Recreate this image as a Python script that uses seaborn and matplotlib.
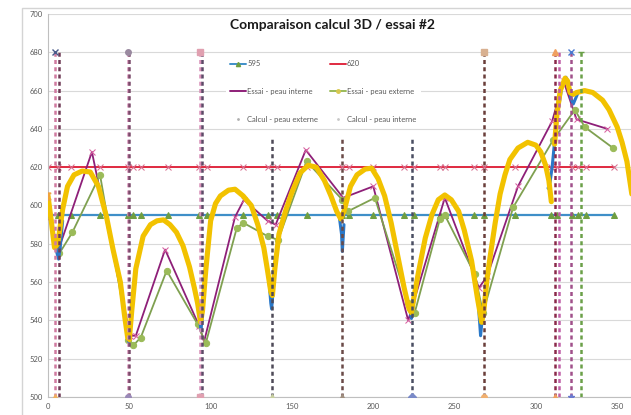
import numpy as np
import matplotlib
matplotlib.use("Agg")
import matplotlib.pyplot as plt
import seaborn as sns
from matplotlib.lines import Line2D
from matplotlib.patches import Rectangle

# positions de mesure (marqueurs des lignes 595 / 620)
x_mesure = [0, 6, 14, 32, 49, 52, 57, 74, 93, 98, 120, 135, 141, 159, 181, 185,
            200, 219, 225, 241, 244, 262, 268, 287, 309, 313, 322, 326, 331, 348]
niv_595 = [595] * len(x_mesure)
niv_620 = [620] * len(x_mesure)

# essai - peau interne
x_int = [0, 1, 6.5, 27, 50.5, 54, 72, 93, 96, 115, 120.5, 135, 140, 158.5, 181.5, 200,
         221.5, 244, 265, 270, 289, 310, 317, 325, 344]
essai_int = [598, 594, 577, 628, 532, 532, 577, 537, 529, 594, 603, 592, 590, 629, 604, 610,
             540, 604, 557, 563, 610, 644, 665, 645, 640]

# essai - peau externe
x_ext = [0, 7, 15, 32, 49.5, 52.5, 57, 73, 92, 97, 116, 120, 135, 141.5, 159, 181,
         184.5, 201, 221.5, 225.5, 241, 244, 262.5, 267.5, 286, 310.5, 324, 330, 347.5]
essai_ext = [596, 575, 586, 616, 530, 527, 531, 566, 538, 528, 588, 591, 584, 582, 623, 603,
             597, 604, 549, 544, 593, 595, 564, 544, 599, 634, 650, 641, 630]

# calcul - peau externe (courbe lissee jaune)
x_calc_ext = [0, 2, 4, 6, 9, 12, 16, 21, 26, 31, 36, 40, 44.5, 47, 49, 50, 51.5, 54, 58.5,
              63, 67, 71, 75, 79, 83, 87, 90, 92, 93.8, 95, 97, 100, 103, 106, 111, 115,
              120, 125, 129, 132.7, 135, 137, 138, 139.5, 142, 146, 150, 155, 160, 165,
              170, 174, 177.5, 180, 182, 186, 190, 195, 199, 203, 207, 211, 215, 219, 222,
              223.5, 225, 228, 232, 236, 240, 244, 248, 252.5, 256, 260.5, 264, 266.7, 268,
              270, 272, 275, 278, 281, 284, 289, 295, 300, 303, 306, 308, 309.5, np.nan,
              311.5, 313, 315, 318, 319.5, 321, 323, 325, 330, 335, 341, 345, 350,
              353, 356, 359]
calc_ext = [605, 592, 578, 580, 598, 610, 616, 618, 617.5, 610, 594, 577, 560, 543, 531, 530,
            545, 567, 584, 590, 592, 592.5, 590, 586, 579, 568, 557, 549, 539, 545, 566, 592,
            601, 605, 608, 608.5, 605, 600, 590, 578, 566, 555, 553, 567, 585, 597, 607, 617,
            621, 620, 613, 605, 597, 593, 597, 610, 616, 619, 619.5, 614, 605, 591, 574, 557,
            546, 544, 552, 566, 583, 595, 603, 605.5, 603, 597, 587, 571, 552, 539, 545,
            562, 574, 591, 606, 616, 624, 630, 633, 631.5, 628, 621, 613, 602, np.nan,
            632, 648, 660, 666.5, 665, 659, 658, 659, 660, 659, 655, 650, 641,
            633, 623, 606]

# calcul - peau interne (bleu, visible aux creux)
x_calc_int = [3, 5, 6.5, 7.5, 9, np.nan, 48, 49.5, 51, np.nan, 93, 94, 95, np.nan,
              135.5, 137, 137.5, 138.5, 140, np.nan, 179, 180.5, 181, 182, np.nan,
              222, 223.5, 225, np.nan, 264.5, 266, 267.5, np.nan,
              307.5, 308.7, 310, 311.8, 313, 316, 318.5, 320.5, 321.5, 323, 324, 326]
calc_int = [585, 577, 572, 578, 592, np.nan, 538, 529, 538, np.nan, 543, 535, 542, np.nan,
            565, 549, 546, 556, 572, np.nan, 595, 585, 576, 590, np.nan,
            548, 541, 550, np.nan, 550, 532, 545, np.nan,
            609, 612, 620, 636, 646, 662, 667, 663, 656, 653, 655, 659]

# lignes verticales pointillees (abscisse, hauteur, couleur, marqueur haut, marqueur bas)
x_vert = [4, 7, 49, 50, 93.5, 94.5, 138, 181, 224, 268, 312, 314.5, 321.5, 327.5]
haut_vert = [680, 680, 680, 680, 680, 680, 635, 635, 635, 680, 680, 680, 680, 680]
coul_vert = ["#d07aa0", "#6e3a55", "#d890b8", "#7a4a6a", "#d890b8", "#5e4a68", "#4e4a58",
             "#6a4a48", "#4a4e62", "#6a3e3a", "#8a2a4a", "#c060a8", "#a0508a", "#6aa048"]
mk_haut = ["x", "", "o", "", "s", "", "", "", "", "s", "^", "", "x", "_"]
mk_bas = ["^", "", "o", "", "s", "", "^", "^", "D", "o", "^", "", "*", ""]
coul_mk_haut = ["#4a5a8a", "", "#9a8aa0", "", "#e0a0b0", "", "", "", "", "#d8b090",
                "#f0a060", "", "#4a7ad0", "#6aa048"]
coul_mk_bas = ["#f0b060", "", "#9a8ab8", "", "#e0a0b0", "", "#c8d0a0", "#a09080",
               "#7a8ac8", "#f0b070", "#f0a060", "", "#6a7ad0", ""]

sns.set_theme(style="white")
plt.rcParams["font.family"] = ["Lato", "DejaVu Sans"]

fig = plt.figure(figsize=(6.31, 4.15), dpi=100)
ax = fig.add_axes([48 / 631, 18 / 415, 583 / 631, 383 / 415])

# cadre du graphique
fig.patches.append(Rectangle((22 / 631, -0.2), 1.2, 0.2 + 407 / 415, transform=fig.transFigure,
                             fill=False, edgecolor="#d4d4d4", linewidth=1.0, zorder=0))

for yv in range(500, 701, 20):
    ax.axhline(yv, color="#d9d9d9", linewidth=0.8, zorder=0)

sns.lineplot(x=x_mesure, y=niv_595, ax=ax, color="#3f8fc8", linewidth=1.6, marker="^",
             markersize=4.5, markerfacecolor="#6f9e40", markeredgecolor="#6f9e40",
             sort=False, estimator=None, zorder=2)
sns.lineplot(x=x_mesure, y=niv_620, ax=ax, color="#e02a40", linewidth=1.4, marker="x",
             markersize=4, markeredgecolor="#d87090", sort=False, estimator=None, zorder=2)
sns.lineplot(x=x_int, y=essai_int, ax=ax, color="#8e1f78", linewidth=1.3, marker="x",
             markersize=4, markeredgecolor="#d860a0", sort=False, estimator=None, zorder=3)
sns.lineplot(x=x_ext, y=essai_ext, ax=ax, color="#7fa050", linewidth=1.3, marker="o",
             markersize=4.5, markerfacecolor="#9bbb59", markeredgecolor="#9bbb59",
             sort=False, estimator=None, zorder=3)

ax.plot(x_calc_int, calc_int, color="#2a78c8", linewidth=2.2, zorder=4, solid_capstyle="round")
ax.plot(x_calc_ext, calc_ext, color="#f2c200", linewidth=3.7, zorder=5, solid_capstyle="round")
ax.plot([0], [605], marker="$\\Sigma$", color="#f0a040", markersize=5, zorder=6)

for i, xv in enumerate(x_vert):
    ax.plot([xv, xv], [500, haut_vert[i]], color=coul_vert[i], linewidth=1.8,
            dashes=(1.6, 1.3), zorder=6)
    if mk_haut[i]:
        ax.plot([xv], [680], marker=mk_haut[i], color=coul_mk_haut[i], markersize=4, zorder=7,
                markeredgewidth=1)
    if mk_bas[i]:
        ax.plot([xv], [500], marker=mk_bas[i], color=coul_mk_bas[i], markersize=4, zorder=7,
                markeredgewidth=1)

ax.set_xlim(0, 358.5)
ax.set_ylim(500, 700)
ax.set_xticks(range(0, 351, 50))
ax.set_yticks(range(500, 701, 20))
ax.tick_params(axis="both", labelsize=5.5, colors="#595959", length=0, pad=4)
for s in ["top", "right"]:
    ax.spines[s].set_visible(False)
ax.spines["left"].set_color("#bfbfbf")
ax.spines["bottom"].set_color("#bfbfbf")
ax.spines["left"].set_linewidth(0.8)
ax.spines["bottom"].set_linewidth(0.8)
ax.set_xlabel("")
ax.set_ylabel("")

fig.text(332 / 631, 1 - 25 / 415, "Comparaison calcul 3D / essai #2", ha="center", va="center",
         fontsize=10, fontweight="bold", color="#1a1a1a")

handles = [
    Line2D([], [], color="#3f8fc8", lw=1.4, marker="^", ms=3, mfc="#6f9e40", mec="#6f9e40"),
    Line2D([], [], color="#8e1f78", lw=1.4),
    Line2D([], [], color="none", marker=".", ms=2, mfc="#b0b0b0", mec="#b0b0b0"),
    Line2D([], [], color="#e02a40", lw=1.4),
    Line2D([], [], color="#9bbb59", lw=1.4, marker="o", ms=2.5, mfc="#d8c850", mec="#d8c850"),
    Line2D([], [], color="none", marker=".", ms=2, mfc="#c8c8c8", mec="#c8c8c8"),
]
labels = ["595", "Essai - peau interne", "Calcul - peau externe",
          "620", "Essai - peau externe", "Calcul - peau interne"]
leg = ax.legend(handles, labels, ncol=2, loc="upper left",
                bbox_to_anchor=(222 / 631, 1 - 52 / 415), bbox_transform=fig.transFigure,
                fontsize=5.5, frameon=True, facecolor="white", edgecolor="none", framealpha=1,
                handlelength=2.0, handletextpad=0.2, labelspacing=2.7, columnspacing=1.6,
                borderpad=0.6, fancybox=False)
for t in leg.get_texts():
    t.set_color("#595959")
leg.set_zorder(8)

fig.savefig("out.png", dpi=100)
